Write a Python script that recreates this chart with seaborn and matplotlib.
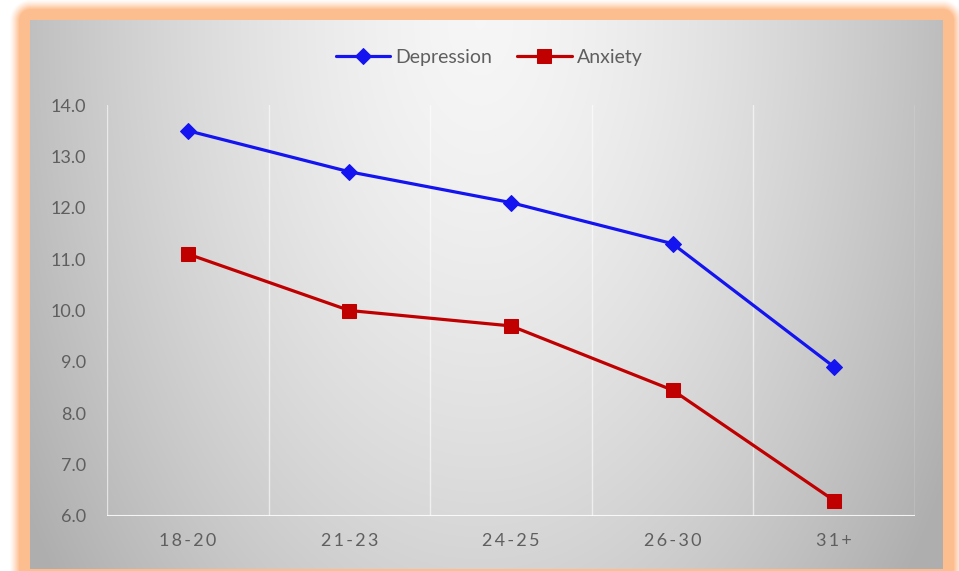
import numpy as np
import pandas as pd
import matplotlib
matplotlib.use("Agg")
import matplotlib.pyplot as plt
import seaborn as sns

# Mean scores by age group
age_groups = ["18-20", "21-23", "24-25", "26-30", "31+"]
depression = [13.5, 12.7, 12.1, 11.3, 8.9]
anxiety = [11.1, 10.0, 9.7, 8.45, 6.3]
y_ticks = [6.0, 7.0, 8.0, 9.0, 10.0, 11.0, 12.0, 13.0, 14.0]

df = pd.DataFrame({
    "age": age_groups * 2,
    "score": depression + anxiety,
    "measure": ["Depression"] * len(age_groups) + ["Anxiety"] * len(age_groups),
})

sns.set_theme(style="white")
plt.rcParams["font.family"] = ["Lato", "DejaVu Sans"]

W, H, DPI = 959, 571, 100
fig = plt.figure(figsize=(W / DPI, H / DPI), dpi=DPI)

# Background: white page, peach glow around the chart box, grey radial fill inside
bx0, bx1, by0, by1 = 30, 942, 20, 568
yy, xx = np.mgrid[0:H, 0:W].astype(float)
dx = np.maximum(np.maximum(bx0 - xx, xx - bx1), 0)
dy = np.maximum(np.maximum(by0 - yy, yy - by1), 0)
dist = np.hypot(dx, dy)
glow = np.clip(1.0 - (dist - 11) / 10.0, 0, 1) ** 1.3
peach = np.array([253, 190, 143]) / 255.0
img = np.ones((H, W, 3))
img = img * (1 - glow[..., None]) + peach * glow[..., None]

inside = (xx >= bx0) & (xx <= bx1) & (yy >= by0) & (yy <= by1)
d = np.sqrt(((xx - 480) / 540.0) ** 2 + ((yy - 20) / 900.0) ** 2)
d = np.clip(d, 0, 1)
shade = 0.965 - 0.28 * d ** 1.5
img[inside] = np.repeat(shade[inside][:, None], 3, axis=1)

bg = fig.add_axes([0, 0, 1, 1], zorder=-10)
bg.imshow(img, aspect="auto", interpolation="bilinear")
bg.axis("off")

# Plot area
left, right, top, bottom = 107, 915, 105, 516
ax = fig.add_axes([left / W, 1 - bottom / H, (right - left) / W, (bottom - top) / H])
ax.set_facecolor("none")

palette = {"Depression": "#1414f0", "Anxiety": "#c00000"}
sns.lineplot(
    data=df, x="age", y="score", hue="measure", style="measure",
    markers={"Depression": "D", "Anxiety": "s"}, dashes=False,
    palette=palette, linewidth=2.3, ax=ax, legend=True, sort=False,
)
for line in ax.lines:
    c = line.get_color()
    if line.get_marker() == "D":
        line.set_markersize(8.5)
    else:
        line.set_markersize(10)
    line.set_markeredgecolor(c)
    line.set_zorder(5)

ax.set_xlim(-0.5, len(age_groups) - 0.5)
ax.set_ylim(6.0, 14.0)
ax.set_yticks(y_ticks)
ax.set_yticklabels([f"{v:.1f}" for v in y_ticks])
ax.set_xticks(range(len(age_groups)))
ax.set_xticklabels(["\u2009".join(list(s)) for s in age_groups])
ax.tick_params(axis="both", length=0, labelsize=13, labelcolor="#5f5f5f")
ax.tick_params(axis="y", pad=15)
ax.tick_params(axis="x", pad=12)
ax.set_xlabel("")
ax.set_ylabel("")
for s in ax.spines.values():
    s.set_visible(False)

# Category dividers and baseline
for xb in np.arange(-0.5, len(age_groups), 1.0):
    ax.axvline(xb, color="white", lw=1.0, alpha=0.6, zorder=1)
ax.axhline(6.0, color="white", lw=1.5, alpha=0.85, zorder=1)

handles, labels = ax.get_legend_handles_labels()
ax.legend(handles, labels, loc="center", ncol=2, frameon=False,
          bbox_to_anchor=(489 / W, 1 - 57 / H), bbox_transform=fig.transFigure,
          fontsize=14, labelcolor="#5f5f5f", handlelength=2.8,
          columnspacing=1.3, handletextpad=0.25)

fig.savefig("out.png", dpi=DPI)
